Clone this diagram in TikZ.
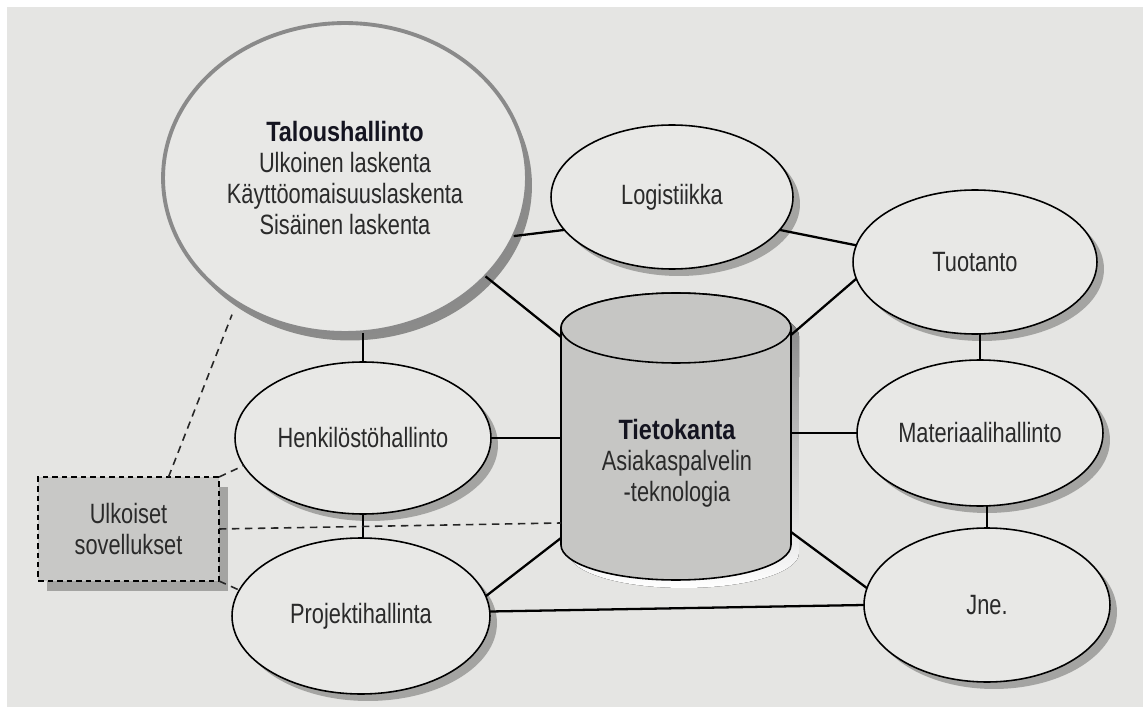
\documentclass[tikz,border=0pt]{standalone}
\usepackage{fontspec}
\setmainfont{Liberation Sans}[FakeStretch=0.78]
\newfontfamily\boldf{Liberation Sans Bold}[FakeStretch=0.84]
\usetikzlibrary{shapes.geometric,shadows,calc}
\definecolor{paper}{HTML}{E5E5E3}
\definecolor{ellfill}{HTML}{E8E8E6}
\definecolor{cylfill}{HTML}{C6C6C4}
\definecolor{boxfill}{HTML}{C8C8C6}
\definecolor{shade}{HTML}{A4A4A2}
\definecolor{txt}{HTML}{2A2A2A}
\definecolor{boldtxt}{HTML}{141420}
\definecolor{bigline}{HTML}{8A8A8A}
\begin{document}
\begin{tikzpicture}[x=0.02cm,y=0.02cm,
  lab/.style={font=\fontsize{15.9}{17.6}\selectfont, text=txt, align=center},
  ell/.style={ellipse, draw=black, line width=0.9pt, fill=ellfill, inner sep=0pt, outer sep=0pt, lab,
    drop shadow={shadow xshift=0.14cm, shadow yshift=-0.14cm, fill=shade, opacity=1}},
  conn/.style={line width=1.3pt, draw=black},
  dline/.style={line width=0.9pt, draw=black!85, dash pattern=on 0.15cm off 0.11cm}
]
\useasboundingbox (0,0) rectangle (1143,711);
\fill[white] (0,0) rectangle (1143,711);
\fill[paper] (7,4) rectangle (1143,704);

% cylinder (database)
\begin{scope}[shift={(8,-8)}]
\fill[shade] (561,383) -- (561,166) arc[start angle=180,end angle=360,x radius=2.3cm,y radius=0.7cm]
  -- (791,383) arc[start angle=0,end angle=180,x radius=2.3cm,y radius=0.7cm] -- cycle;
\end{scope}
\draw[fill=cylfill, line width=0.9pt] (561,383) -- (561,166) arc[start angle=180,end angle=360,x radius=2.3cm,y radius=0.7cm]
  -- (791,383) arc[start angle=0,end angle=180,x radius=2.3cm,y radius=0.7cm] -- cycle;
\draw[fill=cylfill, line width=0.9pt] (676,383) ellipse[x radius=2.3cm, y radius=0.7cm];
\node[minimum width=4.6cm, minimum height=5.74cm, inner sep=0pt, outer sep=0pt] (db) at (676,274.5) {};
\node[lab] (dbtxt) at (677,248) {\textcolor{boldtxt}{\boldf Tietokanta}\\Asiakaspalvelin\\-teknologia};

% big ellipse
\node[ellipse, draw=bigline, line width=2.2pt, fill=ellfill, inner sep=0pt, outer sep=0pt, lab,
  minimum width=7.28cm, minimum height=6.2cm,
  drop shadow={shadow xshift=0.1cm, shadow yshift=-0.15cm, fill=shade!85!black, opacity=1}]
  (talous) at (345,533) {\textcolor{boldtxt}{\boldf Taloushallinto}\\Ulkoinen laskenta\\Käyttöomaisuuslaskenta\\Sisäinen laskenta};

\node[ell, minimum width=4.84cm, minimum height=2.88cm] (logi) at (672,514) {Logistiikka};
\node[ell, minimum width=4.88cm, minimum height=2.88cm] (tuot) at (975,449) {Tuotanto};
\node[ell, minimum width=5.12cm, minimum height=3.04cm] (henk) at (363,273) {Henkilöstöhallinto};
\node[ell, minimum width=5.16cm, minimum height=3.12cm] (proj) at (361,95) {Projektihallinta};
\node[ell, minimum width=4.92cm, minimum height=2.92cm] (mat) at (980,278) {Materiaalihallinto};
\node[ell, minimum width=4.92cm, minimum height=3.08cm] (jne) at (987,106) {Jne.};

\node[draw=black, line width=0.9pt, dash pattern=on 0.11cm off 0.08cm, fill=boxfill,
  minimum width=3.62cm, minimum height=2.08cm, inner sep=0pt, outer sep=0pt, lab,
  drop shadow={shadow xshift=0.18cm, shadow yshift=-0.2cm, fill=shade, opacity=1}]
  (ext) at (128.5,182) {Ulkoiset\\sovellukset};

% connectors
\draw[conn] (talous.-19) -- (logi.197);
\draw[conn] (talous.-35) -- ([yshift=1.99cm]db.west);
\draw[conn] (henk.north) -- (henk.north |- talous.south);
\draw[conn] (henk.east) -- (henk.east -| db.west);
\draw[conn] (henk.south) -- (henk.south |- proj.north);
\draw[conn] (proj.9) -- ([yshift=-2.03cm]db.west);
\draw[conn] (proj.2.5) -- (jne.west);
\draw[conn] (logi.-17) -- (tuot.172);
\draw[conn] ([yshift=2.03cm]db.east) -- (tuot.188.6);
\draw[conn] (mat.west) -- (mat.west -| db.east);
\draw[conn] ([yshift=-1.91cm]db.east) -- (jne.172.5);
\draw[conn] (mat.north) -- (mat.north |- tuot.south);
\draw[conn] (jne.north) -- (jne.north |- mat.south);

% dashed connectors
\draw[dline, shorten >=0.26cm] ([xshift=0.8cm]ext.north) -- (talous.-131);
\draw[dline] (ext.north east) -- (henk.193);
\draw[dline] (ext.south east) -- (proj.168);
\draw[dline] (ext.east) -- ([yshift=-1.73cm]db.west);
\end{tikzpicture}
\end{document}
